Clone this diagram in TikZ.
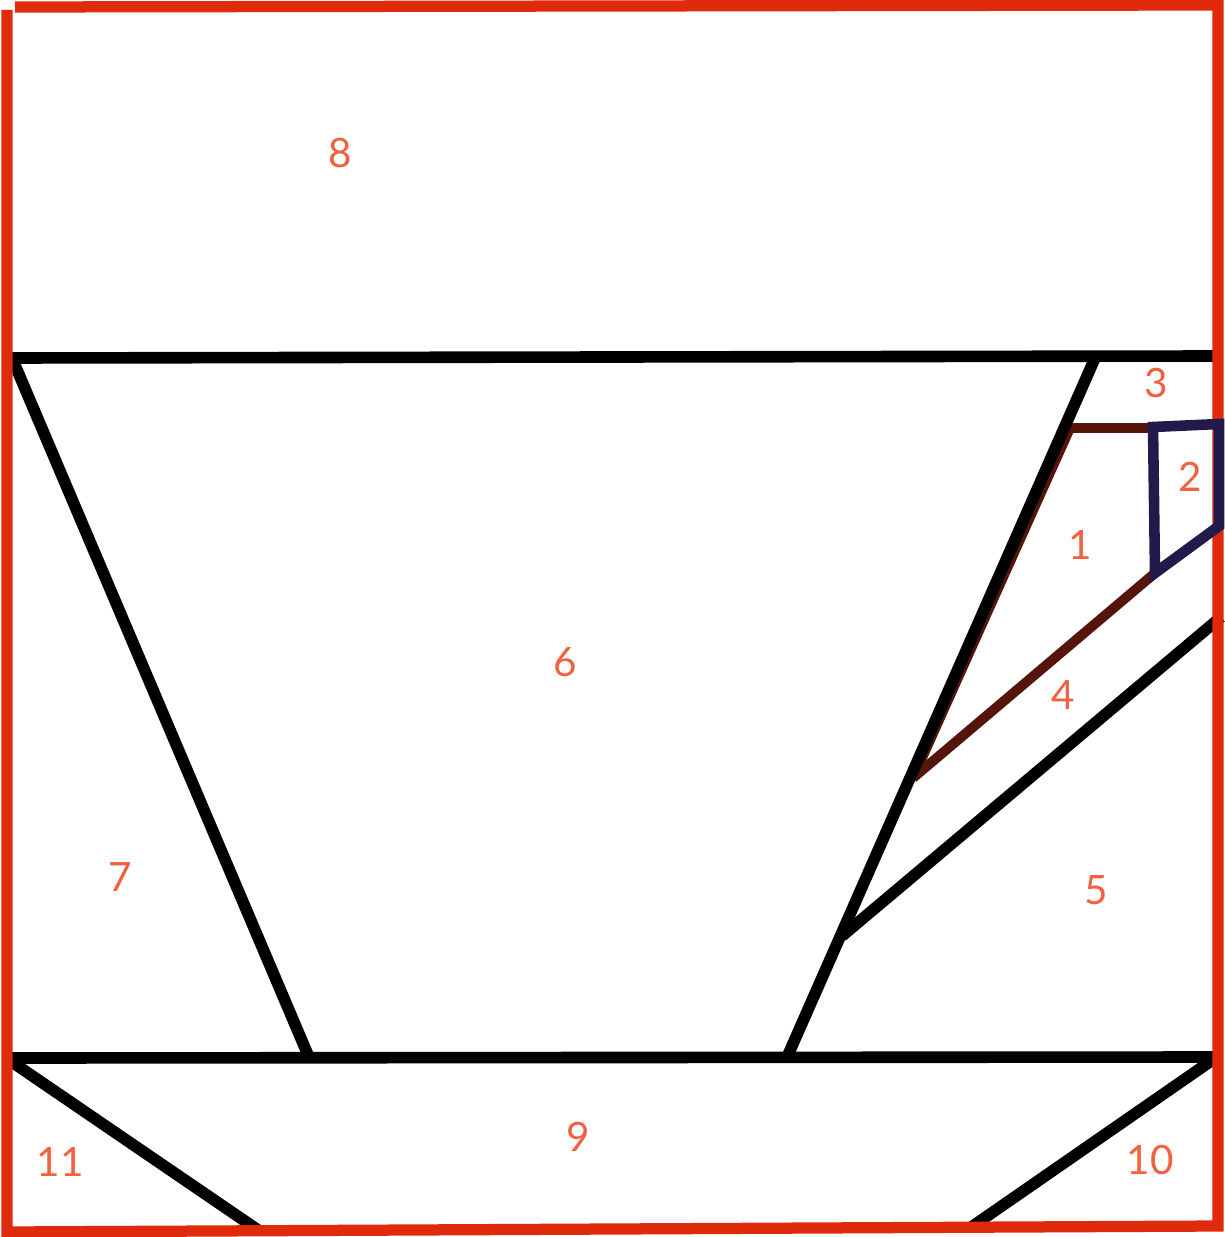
\documentclass[tikz,border=0pt]{standalone}
\usepackage{fontspec}
\setsansfont{Lato}
\definecolor{framered}{HTML}{E02A0C}
\definecolor{numred}{HTML}{F2603E}
\definecolor{handlebrown}{HTML}{55150A}
\definecolor{handlenavy}{HTML}{231A4C}

\begin{document}
\begin{tikzpicture}[x=0.01cm,y=-0.01cm,
  seam/.style={line width=3.3pt,black},
  frame/.style={line width=3.2pt,framered},
  lbl/.style={text=numred,font=\sffamily\fontsize{11.5}{13}\selectfont,inner sep=0pt}]
\useasboundingbox (0,0) rectangle (1225,1237);

% cup outline
\coordinate (rimL) at (12,358);
\coordinate (rimR) at (1216,356);
\coordinate (sideR) at (1095,358);
\coordinate (footR) at (788,1055);
\coordinate (footL) at (308,1055);
\coordinate (baseL) at (10,1058);
\coordinate (baseR) at (1213,1057);

% handle
\coordinate (hA) at (1070,428);
\coordinate (hB) at (1150,428);
\coordinate (hC) at (1219,424);
\coordinate (hD) at (1219,526);
\coordinate (hE) at (1155,573);
\coordinate (hF) at (913,778);

\draw[line width=2.8pt,handlebrown] (hA) -- (hB);
\draw[line width=2.8pt,handlebrown] (hE) -- (hF);
\draw[line width=2.8pt,handlebrown] (hA) -- (hF);

\draw[seam] (rimL) -- (rimR);
\draw[seam] (rimL) -- (footL);
\draw[seam] (sideR) -- (footR);
\draw[seam] (baseL) -- (baseR);
\draw[seam] (842,936) -- (1221,617);

% saucer
\draw[seam] (12,1062) -- (258,1230);
\draw[seam] (1211,1061) -- (970,1228);

\draw[frame] (7,10) -- (7,1232) -- (1218,1226) -- (1218,5) -- (15,7);

\draw[line width=3pt,handlenavy,line join=miter] (hE) -- (1153,427) -- (hC) -- (hD) -- cycle;

\node[lbl] (n8) at (340,153) {8};
\node[lbl] (n3) at (1156,383) {3};
\node[lbl] (n2) at (1190,477) {2};
\node[lbl] (n1) at (1080,545) {1};
\node[lbl] (n6) at (565,662) {6};
\node[lbl] (n4) at (1063,695) {4};
\node[lbl] (n7) at (120,877) {7};
\node[lbl] (n5) at (1096,890) {5};
\node[lbl] (n9) at (578,1137) {9};
\node[lbl] (n11) at (60,1162) {11};
\node[lbl] (n10) at (1150,1160) {10};
\end{tikzpicture}
\end{document}
